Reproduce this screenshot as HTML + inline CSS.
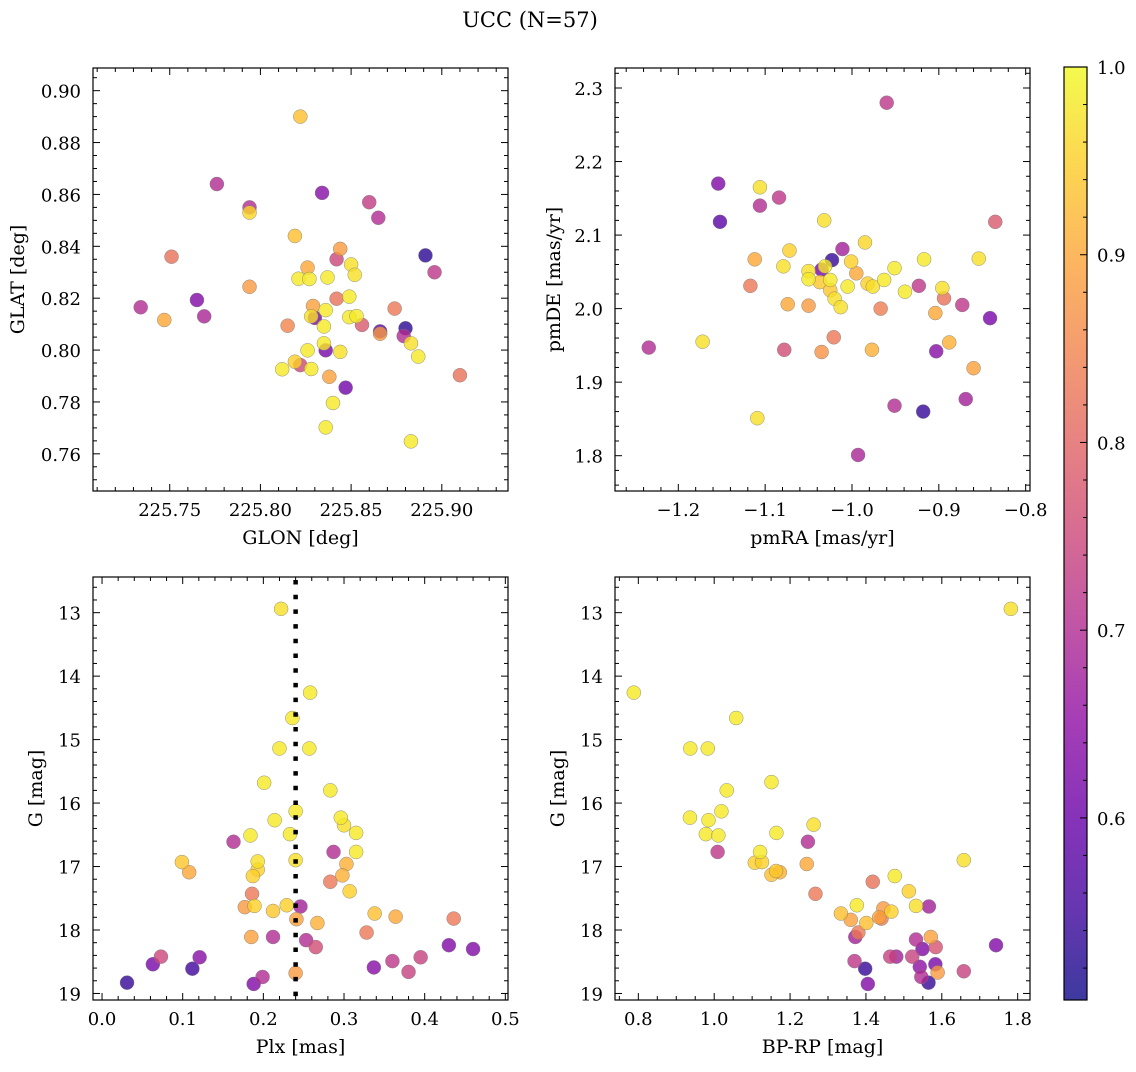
<!DOCTYPE html>
<html><head><meta charset="utf-8"><style>
html,body{margin:0;padding:0;background:#fff;}
svg text{font-family:"DejaVu Serif","Liberation Serif",serif;fill:#000;}
</style></head><body>
<svg id="fig" width="1136" height="1067" viewBox="0 0 1136 1067" xmlns="http://www.w3.org/2000/svg">
<defs>
<linearGradient id="plasmaGrad" x1="0" y1="1" x2="0" y2="0">
<stop offset="0" stop-color="#0d0887"/><stop offset="0.1" stop-color="#41049d"/><stop offset="0.2" stop-color="#6a00a8"/><stop offset="0.3" stop-color="#8f0da4"/><stop offset="0.4" stop-color="#b12a90"/><stop offset="0.5" stop-color="#cc4778"/><stop offset="0.6" stop-color="#e16462"/><stop offset="0.7" stop-color="#f2844b"/><stop offset="0.8" stop-color="#fca636"/><stop offset="0.9" stop-color="#fcce25"/><stop offset="1" stop-color="#f0f921"/>
</linearGradient>
</defs>
<text x="530" y="27" font-size="21" text-anchor="middle">UCC (N=57)</text>
</svg>
<script>
// ---- data (per panel) ----
const glon = [225.822,225.776,225.834,225.860,225.865,225.794,225.794,225.819,225.751,225.844,225.842,225.891,225.896,225.850,225.852,225.826,225.821,225.827,225.837,225.794,225.734,225.765,225.747,225.769,225.842,225.849,225.829,225.836,225.828,225.830,225.849,225.853,225.815,225.835,225.856,225.874,225.866,225.866,225.880,225.879,225.883,225.887,225.910,225.835,225.836,225.826,225.844,225.819,225.822,225.812,225.828,225.838,225.847,225.840,225.836,225.883];
const glat = [0.890,0.864,0.8606,0.857,0.851,0.855,0.853,0.844,0.836,0.839,0.835,0.8365,0.830,0.833,0.829,0.8318,0.8275,0.8274,0.828,0.8244,0.8165,0.8193,0.8116,0.813,0.8198,0.8206,0.817,0.8154,0.813,0.8124,0.8127,0.8131,0.8094,0.8091,0.8097,0.816,0.8072,0.8063,0.8084,0.8054,0.8026,0.7975,0.7903,0.8026,0.7999,0.7999,0.7993,0.7955,0.7942,0.7926,0.7927,0.7897,0.7855,0.7796,0.7702,0.7648];
const probA = [0.93,0.70,0.64,0.73,0.70,0.70,0.96,0.93,0.82,0.88,0.75,0.53,0.72,0.97,0.97,0.90,0.98,0.98,0.98,0.88,0.70,0.63,0.90,0.69,0.82,0.98,0.89,0.98,0.97,0.62,0.98,0.98,0.85,0.98,0.78,0.83,0.58,0.88,0.53,0.70,0.97,0.98,0.82,0.98,0.62,0.98,0.97,0.95,0.75,0.98,0.98,0.89,0.61,0.98,0.98,0.98];

const pmra = [-0.960,-1.154,-1.106,-1.084,-1.106,-1.152,-1.032,-0.835,-0.985,-1.011,-1.072,-1.112,-1.023,-1.001,-0.917,-0.854,-1.079,-1.031,-1.035,-1.050,-0.995,-0.951,-1.050,-1.037,-1.025,-0.963,-1.005,-0.982,-0.976,-1.117,-1.025,-1.020,-1.013,-0.939,-0.923,-0.896,-0.894,-1.074,-1.050,-0.967,-0.873,-0.904,-0.841,-1.234,-1.172,-1.021,-1.078,-1.035,-0.977,-0.903,-0.888,-0.860,-0.869,-0.951,-0.918,-1.109,-0.993];
const pmde = [2.280,2.170,2.165,2.151,2.140,2.118,2.120,2.118,2.090,2.081,2.079,2.067,2.066,2.064,2.067,2.068,2.0575,2.0575,2.053,2.051,2.048,2.055,2.040,2.036,2.039,2.039,2.030,2.034,2.030,2.031,2.025,2.0135,2.002,2.023,2.031,2.028,2.014,2.006,2.004,2.000,2.005,1.994,1.987,1.947,1.955,1.961,1.944,1.941,1.944,1.942,1.954,1.919,1.877,1.868,1.860,1.851,1.801];
const probB = [0.72,0.63,0.97,0.72,0.70,0.58,0.97,0.78,0.96,0.68,0.95,0.90,0.54,0.95,0.98,0.97,0.97,0.98,0.62,0.97,0.90,0.98,0.98,0.94,0.98,0.98,0.98,0.95,0.97,0.83,0.94,0.97,0.97,0.98,0.72,0.97,0.82,0.90,0.88,0.84,0.72,0.90,0.62,0.70,0.97,0.83,0.76,0.87,0.91,0.64,0.91,0.89,0.68,0.70,0.54,0.97,0.69];

const plx = [0.222,0.258,0.236,0.220,0.257,0.201,0.283,0.240,0.214,0.296,0.300,0.315,0.233,0.184,0.163,0.287,0.315,0.240,0.099,0.193,0.303,0.108,0.193,0.187,0.298,0.283,0.307,0.186,0.177,0.189,0.212,0.229,0.246,0.241,0.267,0.338,0.364,0.328,0.436,0.185,0.212,0.253,0.265,0.430,0.460,0.073,0.063,0.121,0.112,0.031,0.199,0.188,0.240,0.337,0.360,0.395,0.380];
const gmagC = [12.94,14.26,14.66,15.14,15.14,15.68,15.80,16.13,16.27,16.23,16.35,16.47,16.49,16.51,16.61,16.77,16.77,16.90,16.93,16.92,16.96,17.09,17.05,17.15,17.14,17.24,17.39,17.43,17.64,17.62,17.70,17.61,17.63,17.83,17.89,17.74,17.79,18.04,17.82,18.11,18.11,18.16,18.27,18.24,18.30,18.42,18.54,18.43,18.61,18.83,18.74,18.85,18.68,18.59,18.49,18.43,18.66];
const probC = [0.97,0.98,0.98,0.98,0.98,0.98,0.98,0.98,0.98,0.98,0.97,0.98,0.98,0.98,0.70,0.70,0.98,0.97,0.94,0.97,0.91,0.90,0.95,0.95,0.91,0.83,0.95,0.83,0.88,0.95,0.94,0.95,0.68,0.89,0.91,0.93,0.90,0.83,0.83,0.89,0.70,0.70,0.76,0.63,0.63,0.75,0.62,0.64,0.55,0.54,0.70,0.63,0.88,0.64,0.72,0.74,0.74];
const plxMean = [0.24];

const bprp = [1.782,0.788,1.058,0.937,0.983,1.151,1.033,1.019,0.936,0.985,1.262,0.978,1.011,1.164,1.247,1.009,1.121,1.107,1.126,1.658,1.244,1.151,1.163,1.173,1.418,1.476,1.513,1.267,1.376,1.532,1.566,1.334,1.360,1.446,1.467,1.435,1.441,1.401,1.380,1.372,1.571,1.532,1.584,1.549,1.743,1.370,1.464,1.480,1.522,1.398,1.542,1.583,1.658,1.589,1.546,1.565,1.405];
const gmagD = [12.94,14.26,14.66,15.14,15.14,15.67,15.80,16.13,16.23,16.27,16.34,16.49,16.51,16.47,16.61,16.77,16.77,16.94,16.93,16.90,16.96,17.13,17.07,17.09,17.24,17.15,17.39,17.43,17.61,17.62,17.63,17.74,17.84,17.66,17.71,17.80,17.82,17.89,18.04,18.11,18.11,18.15,18.27,18.30,18.24,18.49,18.42,18.42,18.42,18.61,18.58,18.54,18.65,18.67,18.74,18.83,18.85];
const probD = [0.97,0.98,0.98,0.98,0.98,0.98,0.98,0.98,0.98,0.98,0.97,0.98,0.98,0.98,0.70,0.72,0.98,0.95,0.95,0.97,0.90,0.93,0.94,0.91,0.82,0.98,0.95,0.83,0.98,0.97,0.68,0.93,0.89,0.88,0.95,0.89,0.84,0.93,0.83,0.68,0.89,0.70,0.77,0.63,0.63,0.72,0.74,0.68,0.74,0.54,0.65,0.62,0.74,0.88,0.70,0.54,0.63];

// tick label arrays
const p1XTicks = ["225.75","225.80","225.85","225.90"];
const p1YTicks = ["0.76","0.78","0.80","0.82","0.84","0.86","0.88","0.90"];
const p2XTicks = ["−1.2","−1.1","−1.0","−0.9","−0.8"];
const p2YTicks = ["1.8","1.9","2.0","2.1","2.2","2.3"];
const p3XTicks = ["0.0","0.1","0.2","0.3","0.4","0.5"];
const gYTicks = ["13","14","15","16","17","18","19"];
const p4XTicks = ["0.8","1.0","1.2","1.4","1.6","1.8"];
const cbTicks = ["0.6","0.7","0.8","0.9","1.0"];

const NS = "http://www.w3.org/2000/svg";
const svg = document.getElementById('fig');
const VMIN = 0.503, VMAX = 1.0;
const TICKFS = 18, LABFS = 19;
const stops = ["#0d0887","#41049d","#6a00a8","#8f0da4","#b12a90","#cc4778","#e16462","#f2844b","#fca636","#fcce25","#f0f921"];
function hex(h){return [1,3,5].map(i=>parseInt(h.substr(i,2),16));}
function cmap(v){
  let t=(v-VMIN)/(VMAX-VMIN); t=Math.max(0,Math.min(1,t));
  const f=t*10, i=Math.min(9,Math.floor(f)), r=f-i;
  const a=hex(stops[i]), b=hex(stops[i+1]);
  return 'rgb('+a.map((x,k)=>Math.round(x+(b[k]-x)*r)).join(',')+')';
}
function mk(tag, attrs, parent){
  const e=document.createElementNS(NS,tag);
  for(const k in attrs) e.setAttribute(k,attrs[k]);
  (parent||svg).appendChild(e); return e;
}
function parseTick(s){return parseFloat(s.replace('−','-'));}

function panel(cfg){
  const g=mk('g',{});
  
  
  const {L,T,W,H,x0,x1,y0,y1,inv}=cfg;
  const sx=v=>L+(v-x0)/(x1-x0)*W;
  const sy=v=>inv? T+(v-y0)/(y1-y0)*H : T+H-(v-y0)/(y1-y0)*H;
  const idx=cfg.xs.map((_,i)=>i).sort((a,b)=>cfg.cs[a]-cfg.cs[b]);
  const pg=mk('g',{},g);
  
  
  idx.forEach(i=>{
    const c=mk('circle',{cx:sx(cfg.xs[i]).toFixed(2),cy:sy(cfg.ys[i]).toFixed(2),r:7,fill:cmap(cfg.cs[i]),'fill-opacity':0.8,stroke:'#777','stroke-width':0.5,'stroke-opacity':0.8},pg);
    
    
  });
  if(cfg.vline){
    cfg.vline.forEach(v=>{
      const l=mk('line',{x1:sx(v),x2:sx(v),y1:T+3,y2:T+H,stroke:'#000','stroke-width':4.5,'stroke-dasharray':'4.5 10.2'},g);
      
      
    });
  }
  const fr=mk('rect',{x:L,y:T,width:W,height:H,fill:'none',stroke:'#000','stroke-width':1.2},g);
  
  
  const tg=mk('g',{stroke:'#000','stroke-width':1},g);
  const eps=1e-9;
  for(let v=Math.ceil(x0/cfg.xmin-eps)*cfg.xmin; v<=x1+eps; v+=cfg.xmin){
    const X=sx(v); if(X<L+0.5||X>L+W-0.5) continue;
    const maj=Math.abs(v/cfg.xmaj-Math.round(v/cfg.xmaj))<1e-6; const len=maj?7:4;
    mk('line',{x1:X,x2:X,y1:T+H,y2:T+H-len},tg); mk('line',{x1:X,x2:X,y1:T,y2:T+len},tg);
  }
  for(let v=Math.ceil(Math.min(y0,y1)/cfg.ymin-eps)*cfg.ymin; v<=Math.max(y0,y1)+eps; v+=cfg.ymin){
    const Y=sy(v); if(Y<T+0.5||Y>T+H-0.5) continue;
    const maj=Math.abs(v/cfg.ymaj-Math.round(v/cfg.ymaj))<1e-6; const len=maj?7:4;
    mk('line',{x1:L,x2:L+len,y1:Y,y2:Y},tg); mk('line',{x1:L+W,x2:L+W-len,y1:Y,y2:Y},tg);
  }
  cfg.xt.forEach(s=>{
    const t=mk('text',{x:sx(parseTick(s)),y:T+H+25,'font-size':TICKFS,'text-anchor':'middle'},g); t.textContent=s;
    
    
  });
  cfg.yt.forEach(s=>{
    const t=mk('text',{x:L-12,y:sy(parseTick(s))+7,'font-size':TICKFS,'text-anchor':'end'},g); t.textContent=s;
    
    
  });
  const xl=mk('text',{x:L+W/2,y:T+H+53,'font-size':LABFS,'text-anchor':'middle'},g); xl.textContent=cfg.xlab;
  
  
  const yx=cfg.ylabX, yy=T+H/2;
  const yl=mk('text',{x:yx,y:yy,'font-size':LABFS,'text-anchor':'middle',transform:'rotate(-90 '+yx+' '+yy+')'},g); yl.textContent=cfg.ylab;
  
  
}

panel({name:'glon-glat-panel',L:93,T:68,W:415,H:423,x0:225.7077,x1:225.9365,y0:0.74567,y1:0.90874,inv:false,
  xs:glon,ys:glat,cs:probA,xmaj:0.05,xmin:0.01,ymaj:0.02,ymin:0.005,xt:p1XTicks,yt:p1YTicks,xlab:'GLON [deg]',ylab:'GLAT [deg]',ylabX:24});
panel({name:'pm-panel',L:615,T:68,W:415,H:423,x0:-1.2729,x1:-0.795,y0:1.752,y1:2.3272,inv:false,
  xs:pmra,ys:pmde,cs:probB,xmaj:0.1,xmin:0.02,ymaj:0.1,ymin:0.02,xt:p2XTicks,yt:p2YTicks,xlab:'pmRA [mas/yr]',ylab:'pmDE [mas/yr]',ylabX:560});
panel({name:'plx-g-panel',L:93,T:577,W:415,H:423,x0:-0.0112,x1:0.5033,y0:12.438,y1:19.103,inv:true,
  xs:plx,ys:gmagC,cs:probC,xmaj:0.1,xmin:0.02,ymaj:1,ymin:0.2,xt:p3XTicks,yt:gYTicks,xlab:'Plx [mas]',ylab:'G [mag]',ylabX:42,vline:plxMean});
panel({name:'cmd-panel',L:615,T:577,W:415,H:423,x0:0.7385,x1:1.8325,y0:12.438,y1:19.103,inv:true,
  xs:bprp,ys:gmagD,cs:probD,xmaj:0.2,xmin:0.05,ymaj:1,ymin:0.2,xt:p4XTicks,yt:gYTicks,xlab:'BP-RP [mag]',ylab:'G [mag]',ylabX:564});

// colorbar
(function(){
  const L=1064,T=67,W=23,H=933;
  const g=mk('g',{});
  
  
  mk('rect',{x:L,y:T,width:W,height:H,fill:'url(#plasmaGrad)','fill-opacity':0.8},g);
  mk('rect',{x:L,y:T,width:W,height:H,fill:'none',stroke:'#000','stroke-width':1.2},g);
  const sy=v=>T+H-(v-VMIN)/(VMAX-VMIN)*H;
  for(let k=26;k<=50;k++){
    const v=k/50; const Y=sy(v); if(Y<T+0.5||Y>T+H-0.5) continue;
    const maj=(k%5===0);
    mk('line',{x1:L+W,x2:L+W-(maj?7:4),y1:Y,y2:Y,stroke:'#000','stroke-width':1},g);
  }
  cbTicks.forEach(s=>{
    const t=mk('text',{x:L+W+10,y:sy(parseFloat(s))+7,'font-size':TICKFS},g); t.textContent=s;
    
    
  });
})();
</script>
</body></html>
